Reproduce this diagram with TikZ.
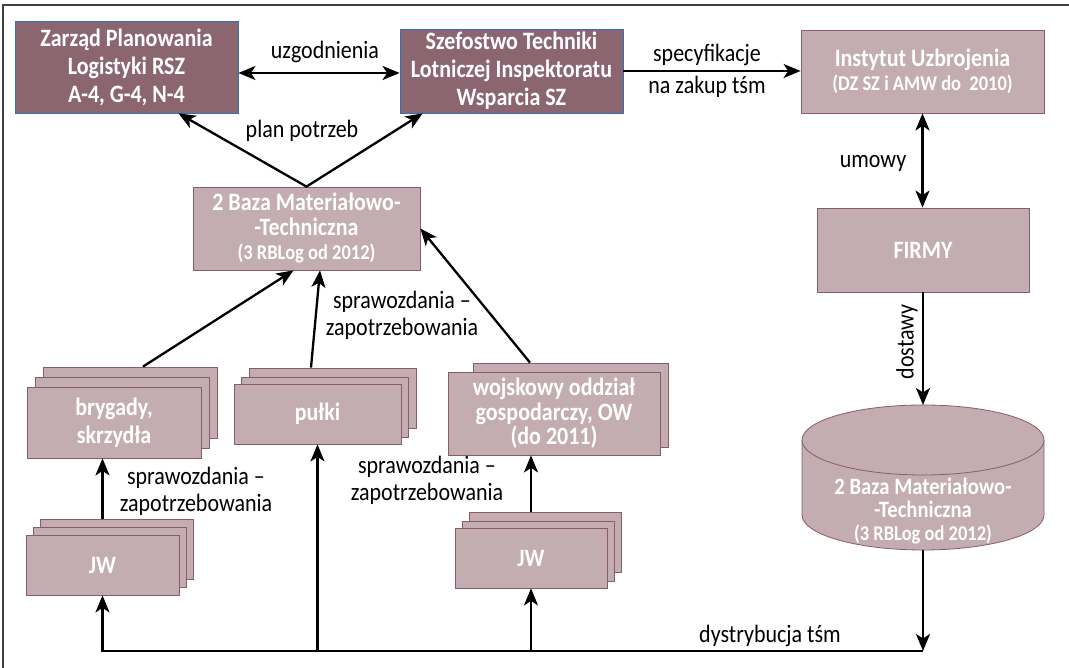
\documentclass[tikz,border=0pt]{standalone}
\usepackage{fontspec}
\setmainfont{Carlito}[FakeStretch=0.88]
\usetikzlibrary{arrows.meta,positioning}
\definecolor{darkbox}{RGB}{139,102,112}
\definecolor{lightbox}{RGB}{195,173,176}
\definecolor{boxline}{RGB}{138,92,106}
\definecolor{blueline}{RGB}{46,117,182}
\newcommand\yearfont{\fontsize{21}{23}\selectfont}
\begin{document}
\begin{tikzpicture}[x=1pt,y=1pt,>={Stealth[length=17pt,width=14pt,inset=4.5pt]},
  topbox/.style={draw=blueline,line width=0.8pt,fill=darkbox,text=white,align=center,inner sep=0pt,
    font=\fontsize{25}{28}\selectfont\bfseries},
  basebox/.style={draw=boxline,line width=0.8pt,fill=lightbox,text=white,align=center,inner sep=0pt,
    font=\fontsize{25}{24.5}\selectfont\bfseries},
  lbl/.style={font=\fontsize{25}{27}\selectfont,align=center},
  link/.style={line width=2.3pt}]
\useasboundingbox (0,0) rectangle (1069,668);
\draw[line width=1.2pt,black!75] (3,0) -- (3,663) -- (1069,663);
\node[topbox,minimum width=223pt,minimum height=92pt] (zarzad) at (126.5,601) {Zarząd Planowania\\Logistyki RSZ\\A-4, G-4, N-4};
\node[topbox,minimum width=223pt,minimum height=84pt] (szef) at (511.5,597) {Szefostwo Techniki\\Lotniczej Inspektoratu\\Wsparcia SZ};
\node[basebox,minimum width=243pt,minimum height=83pt] (inst) at (922.5,596.5) {Instytut Uzbrojenia\\{\yearfont (DZ SZ i AMW do\ \ 2010)}};
\node[basebox,minimum width=212pt,minimum height=84pt] (firmy) at (923,418) {FIRMY};
\node[basebox,minimum width=227pt,minimum height=83pt] (baza) at (306.5,439.5) {2 Baza Materiałowo-\\-Techniczna\\{\yearfont (3 RBLog od 2012)}};
\node[basebox,minimum width=174pt,minimum height=71pt] (bryg3) at (130,265.5) {};
\node[basebox,minimum width=174pt,minimum height=71pt] (bryg2) at (122,255.5) {};
\node[basebox,minimum width=174pt,minimum height=71pt] (bryg) at (114,245.5) {brygady,\\[3pt]skrzydła};
\node[basebox,minimum width=167pt,minimum height=60pt] (pulki3) at (332.5,270) {};
\node[basebox,minimum width=167pt,minimum height=60pt] (pulki2) at (325,261) {};
\node[basebox,minimum width=167pt,minimum height=60pt] (pulki) at (317.5,254) {pułki};
\node[basebox,minimum width=195pt,minimum height=84pt] (wojsk2) at (570.5,263) {};
\node[basebox,minimum width=212pt,minimum height=83pt] (wojsk) at (554,254.5) {wojskowy oddział\\gospodarczy, OW\\(do 2011)};
\node[basebox,minimum width=153pt,minimum height=60pt] (jwl3) at (116.5,119) {};
\node[basebox,minimum width=153pt,minimum height=60pt] (jwl2) at (109.5,111) {};
\node[basebox,minimum width=153pt,minimum height=60pt] (jwl) at (102.5,103) {JW};
\node[basebox,minimum width=152pt,minimum height=60pt] (jwr3) at (545,126) {};
\node[basebox,minimum width=152pt,minimum height=60pt] (jwr2) at (538.5,117) {};
\node[basebox,minimum width=152pt,minimum height=60pt] (jwr) at (531,110) {JW};
\fill[lightbox] (802,153) -- (802,228) -- (1044,228) -- (1044,153) arc (0:-180:121 and 35) -- cycle;
\draw[boxline,line width=0.8pt] (802,228) -- (802,153) arc (180:360:121 and 35) -- (1044,228);
\draw[boxline,line width=0.8pt,fill=lightbox] (923,228) ellipse [x radius=121,y radius=35];
\node[text=white,align=center,font=\fontsize{23.5}{23}\selectfont\bfseries] (cyl) at (923,157) {2 Baza Materiałowo-\\-Techniczna\\{\yearfont (3 RBLog od 2012)}};
\coordinate (cyltop) at (923,263);
\coordinate (cylbot) at (923,118);
\coordinate (dist) at (923,17);
\draw[link,<->] (zarzad.east |- 0,595) -- (szef.west |- 0,595);
\node[lbl] (uzg) at (325,616) {uzgodnienia};
\draw[link,<->] ([xshift=52pt]zarzad.south) -- (baza.north) -- ([xshift=23pt]szef.south west);
\node[lbl] (plan) at (302,537) {plan potrzeb};
\draw[link,->] (szef.east) -- (inst.west |- szef.east);
\node[lbl] (spec) at (707,613) {specyfikacje};
\node[lbl] (zakup) at (707,581) {na zakup tśm};
\draw[link,<->] (inst.south) -- (inst.south |- firmy.north);
\node[lbl] (umowy) at (873,505) {umowy};
\draw[link,->] (firmy.south) -- (cyltop);
\node[lbl,rotate=90] (dost) at (907,326) {dostawy};
\draw[link,->] (cylbot) -- (dist);
\draw[link,->] (dist) -| (jwl.south);
\draw[link,->] (dist -| pulki.south) -- (pulki.south);
\draw[link,->] (dist -| jwr.south) -- (jwr.south);
\node[lbl] (dystr) at (770,32) {dystrybucja tśm};
\draw[link,->] ([xshift=13pt]bryg3.north) -- ([xshift=-13pt]baza.south);
\draw[link,->] ([xshift=-21.5pt]pulki3.north) -- ([xshift=13.5pt]baza.south);
\draw[link,->] ([xshift=-40.5pt]wojsk2.north) -- (baza.east);
\node[lbl] (spr1) at (402,353) {sprawozdania –\\zapotrzebowania};
\draw[link,->] (jwl.north |- jwl3.north) -- (jwl.north |- bryg.south);
\node[lbl] (spr2) at (196,177) {sprawozdania –\\zapotrzebowania};
\draw[link,->] (jwr.north |- jwr3.north) -- (jwr.north |- wojsk.south);
\node[lbl] (spr3) at (427,188) {sprawozdania –\\zapotrzebowania};
\end{tikzpicture}
\end{document}
